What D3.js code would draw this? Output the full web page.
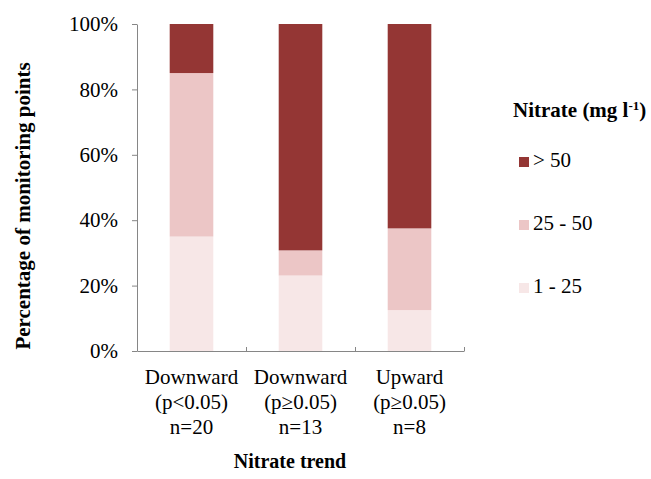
<!DOCTYPE html>
<html>
<head>
<meta charset="utf-8">
<script src="https://cdn.jsdelivr.net/npm/d3@7"></script>
<style>
  body { margin: 0; background: #fff; }
  text { font-family: "Liberation Serif", "Times New Roman", serif; fill: #000; }
</style>
</head>
<body>
<script>
// categories and their label lines
var categories = ["down_sig", "down_ns", "up_ns"];
var catLines = [
    ["Downward", "(p<0.05)", "n=20"],
    ["Downward", "(p\u22650.05)", "n=13"],
    ["Upward", "(p\u22650.05)", "n=8"]
];

// share of monitoring points in each nitrate class (counts / n)
var low = [7 / 20, 3 / 13, 1 / 8];      // 1 - 25
var mid = [10 / 20, 1 / 13, 2 / 8];     // 25 - 50
var high = [3 / 20, 9 / 13, 5 / 8];     // > 50

var seriesKeys = ["low", "mid", "high"];
var seriesLabels = ["1 - 25", "25 - 50", "> 50"];
var seriesColors = ["#f7e7e7", "#ecc6c6", "#943634"];

var yTicks = [0, 0.2, 0.4, 0.6, 0.8, 1];

// set the dimensions and margins of the graph
var margin = { top: 24, right: 187, bottom: 128, left: 137 },
    width = 651 - margin.left - margin.right,
    height = 479 - margin.top - margin.bottom;

var table = categories.map(function (c, i) {
    return { cat: c, low: low[i], mid: mid[i], high: high[i] };
});

var stacked = d3.stack().keys(seriesKeys)(table);

// set the ranges
var x = d3.scaleBand()
    .domain(categories)
    .range([0, width])
    .paddingInner(0.6)
    .paddingOuter(0.3);
var xEdge = d3.scaleLinear().domain([0, categories.length]).range([0, width]);
var y = d3.scaleLinear().domain([0, 1]).range([height, 0]);
var color = d3.scaleOrdinal().domain(seriesKeys).range(seriesColors);

var root = d3.select("body").append("svg")
    .attr("width", 651)
    .attr("height", 479);
var svg = root.append("g")
    .attr("transform", "translate(" + margin.left + "," + margin.top + ")");

// stacked bars
svg.selectAll(".layer")
    .data(stacked)
    .enter().append("g")
    .attr("class", "layer")
    .attr("fill", function (d) { return color(d.key); })
    .selectAll("rect")
    .data(function (d) { return d; })
    .enter().append("rect")
    .attr("x", function (d) { return x(d.data.cat); })
    .attr("width", x.bandwidth())
    .attr("y", function (d) { return y(d[1]); })
    .attr("height", function (d) { return y(d[0]) - y(d[1]); });

// y axis
var yAxis = svg.append("g")
    .call(d3.axisLeft(y).tickValues(yTicks).tickFormat(d3.format(".0%")).tickSize(5).tickSizeOuter(0));
yAxis.select(".domain").attr("stroke", "#868686");
yAxis.selectAll(".tick line").attr("stroke", "#868686");
yAxis.selectAll(".tick text")
    .attr("x", -19)
    .style("font-size", "21px")
    .style("font-family", "Liberation Serif");

// x axis with boundary ticks
var xAxis = svg.append("g")
    .attr("transform", "translate(0," + height + ")")
    .call(d3.axisBottom(xEdge).tickValues(d3.range(categories.length + 1)).tickFormat("").tickSize(-4).tickSizeOuter(0));
xAxis.select(".domain").attr("stroke", "#868686");
xAxis.selectAll(".tick line").attr("stroke", "#868686");

// category labels
var catText = svg.selectAll(".cat")
    .data(categories)
    .enter().append("text")
    .attr("class", "cat")
    .attr("text-anchor", "middle")
    .style("font-size", "21px")
    .attr("transform", function (d) {
        return "translate(" + (x(d) + x.bandwidth() / 2) + "," + (height + 33) + ")";
    });
catText.selectAll("tspan")
    .data(function (d, i) { return catLines[i]; })
    .enter().append("tspan")
    .attr("x", 0)
    .attr("y", function (d, j) { return j * 25; })
    .text(function (d) { return d; });

// axis titles
svg.append("text")
    .attr("x", 153)
    .attr("y", height + 117)
    .attr("text-anchor", "middle")
    .style("font-size", "20px")
    .style("font-weight", "bold")
    .text("Nitrate trend");

root.append("text")
    .attr("transform", "translate(30,206) rotate(-90)")
    .attr("text-anchor", "middle")
    .style("font-size", "21px")
    .style("font-weight", "bold")
    .text("Percentage of monitoring points");

// legend
var legend = root.append("g").attr("transform", "translate(513,0)");
var lt = legend.append("text")
    .attr("x", 0)
    .attr("y", 117)
    .style("font-size", "21px")
    .style("font-weight", "bold")
    .text("Nitrate (mg l");
lt.append("tspan").attr("dy", -7).style("font-size", "13px").text("-1");
lt.append("tspan").attr("dy", 7).text(")");

var legendKeys = seriesKeys.slice().reverse();
var items = legend.selectAll(".item")
    .data(legendKeys)
    .enter().append("g")
    .attr("class", "item")
    .attr("transform", function (d, i) { return "translate(0," + (167 + i * 63) + ")"; });
items.append("rect")
    .attr("x", 6)
    .attr("y", -10)
    .attr("width", 10)
    .attr("height", 10)
    .attr("fill", function (d) { return color(d); });
items.append("text")
    .attr("x", 20)
    .attr("y", 0)
    .style("font-size", "21px")
    .text(function (d) { return seriesLabels[seriesKeys.indexOf(d)]; });
</script>
</body>
</html>
